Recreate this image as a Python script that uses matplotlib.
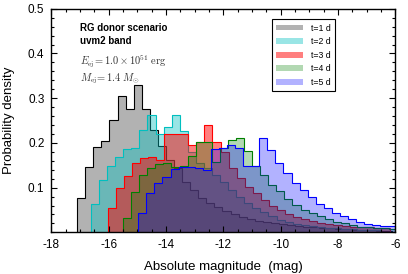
import matplotlib
import numpy as np

matplotlib.use("Agg")
import matplotlib.pyplot as plt
from matplotlib.ticker import MultipleLocator

plt.rcParams["font.family"] = ["Liberation Sans", "DejaVu Sans"]
plt.rcParams["mathtext.fontset"] = "cm"
plt.rcParams["axes.unicode_minus"] = False

# bin layout (mag)
bin_width = 0.2815
start_t1 = -17.10
start_t2 = -16.62
start_t3 = -16.04
start_t4 = -15.50
start_t5 = -14.97

# probability density per bin
dens_t1 = [0.076, 0.147, 0.190, 0.205, 0.251, 0.305, 0.275, 0.329, 0.275, 0.230,
           0.193, 0.162, 0.145, 0.113, 0.095, 0.076, 0.066, 0.057, 0.048, 0.041,
           0.035, 0.029, 0.026, 0.024, 0.022, 0.018, 0.016, 0.014, 0.012, 0.011,
           0.010, 0.009, 0.008, 0.007, 0.006, 0.005, 0.005, 0.004, 0.004]
dens_t2 = [0.063, 0.117, 0.149, 0.169, 0.186, 0.188, 0.229, 0.262, 0.220, 0.236,
           0.262, 0.227, 0.180, 0.156, 0.143, 0.128, 0.113, 0.095, 0.080, 0.065,
           0.054, 0.046, 0.036, 0.028, 0.024, 0.019, 0.016, 0.014, 0.012, 0.010,
           0.009, 0.008, 0.007, 0.006, 0.005, 0.005]
dens_t3 = [0.054, 0.100, 0.126, 0.154, 0.166, 0.169, 0.162, 0.221, 0.221, 0.221,
           0.195, 0.203, 0.241, 0.203, 0.180, 0.143, 0.121, 0.102, 0.087, 0.072,
           0.059, 0.050, 0.041, 0.035, 0.029, 0.025, 0.022, 0.019, 0.017, 0.015,
           0.013, 0.012, 0.011, 0.010, 0.010]
dens_t4 = [0.031, 0.091, 0.128, 0.143, 0.153, 0.156, 0.147, 0.148, 0.171, 0.203,
           0.203, 0.158, 0.188, 0.206, 0.210, 0.183, 0.148, 0.128, 0.106, 0.092,
           0.074, 0.061, 0.051, 0.044, 0.036, 0.029, 0.024, 0.020, 0.016, 0.013,
           0.011, 0.010, 0.009, 0.008]
dens_t5 = [0.044, 0.089, 0.111, 0.124, 0.141, 0.147, 0.147, 0.143, 0.139, 0.186,
           0.188, 0.195, 0.188, 0.148, 0.148, 0.210, 0.184, 0.156, 0.133, 0.111,
           0.095, 0.078, 0.063, 0.054, 0.044, 0.036, 0.029, 0.024, 0.019, 0.016,
           0.014, 0.014]

labels = ["t=1 d", "t=2 d", "t=3 d", "t=4 d", "t=5 d"]
starts = [start_t1, start_t2, start_t3, start_t4, start_t5]
series = [dens_t1, dens_t2, dens_t3, dens_t4, dens_t5]
face_colors = ["gray", "c", "r", "g", "b"]
face_alpha = [0.6, 0.4, 0.5, 0.3, 0.3]
edge_colors = ["k", "c", "r", "g", "b"]

fig = plt.figure(figsize=(4.08, 2.74), dpi=100)
ax = fig.add_axes([0.126, 0.152, 0.843, 0.816])

for lab, x0, vals, fc, fa, ec in zip(labels, starts, series, face_colors, face_alpha, edge_colors):
    vals = np.asarray(vals)
    edges = x0 + bin_width * np.arange(len(vals) + 1)
    ax.stairs(vals, edges, fill=True, color=fc, alpha=fa, lw=0.8, label=lab)
    ax.stairs(vals, edges, color=ec, lw=0.8)

ax.set_xlim(-18, -6)
ax.set_ylim(0, 0.5)
ax.xaxis.set_major_locator(MultipleLocator(2))
ax.xaxis.set_minor_locator(MultipleLocator(0.5))
ax.yaxis.set_major_locator(MultipleLocator(0.1))
ax.yaxis.set_minor_locator(MultipleLocator(0.02))
ax.set_yticks([0.1, 0.2, 0.3, 0.4, 0.5])
ax.tick_params(which="both", direction="in", top=True, right=True, labelsize=8.5, width=0.8)
ax.tick_params(which="major", length=4, pad=5)
ax.tick_params(which="minor", length=2)
for sp in ax.spines.values():
    sp.set_linewidth(1.0)

ax.set_xlabel("Absolute magnitude  (mag)", fontsize=9.5, labelpad=7)
ax.set_ylabel("Probability density", fontsize=9.5, labelpad=9)

ax.text(0.083, 0.916, "RG donor scenario", transform=ax.transAxes, fontsize=7,
        fontweight="bold", va="center", ha="left")
ax.text(0.083, 0.857, "uvm2 band", transform=ax.transAxes, fontsize=7,
        fontweight="bold", va="center", ha="left")
ax.text(0.083, 0.766, r"$E_{\rm ej}\!=1.0\times10^{51}\ {\rm erg}$", transform=ax.transAxes,
        fontsize=7.5, va="center", ha="left", color="#333333")
ax.text(0.083, 0.686, r"$M_{\rm ej}\!=1.4\ M_{\odot}$", transform=ax.transAxes,
        fontsize=7.5, va="center", ha="left", color="#333333")

leg = ax.legend(loc="upper left", bbox_to_anchor=(0.641, 0.953), fontsize=6.3,
                handlelength=3.0, handleheight=0.65, labelspacing=0.52,
                handletextpad=1.0, borderpad=0.5, borderaxespad=0,
                fancybox=False, framealpha=1, edgecolor="k")
leg.get_frame().set_linewidth(0.8)

fig.savefig("out.png", dpi=100)
